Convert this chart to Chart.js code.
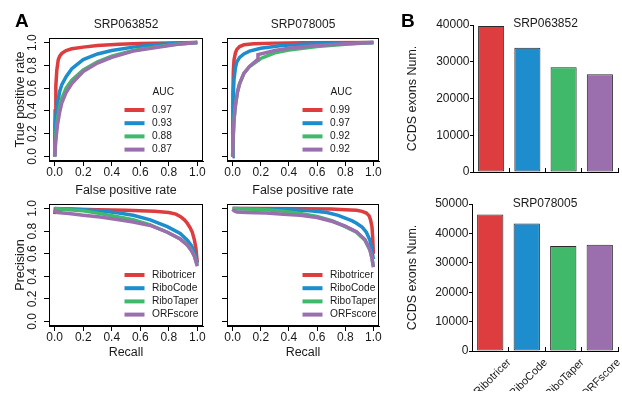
<!DOCTYPE html>
<html><head><meta charset="utf-8">
<script src="https://cdn.jsdelivr.net/npm/chart.js@4.4.1/dist/chart.umd.min.js"></script>
<style>
html,body{margin:0;padding:0;background:#fff}
#wrap{position:relative;width:622px;height:397px;overflow:hidden;background:#fff}
canvas{position:absolute;left:0;top:0}
.tag{position:absolute;font:bold 19px "Liberation Sans",Arial,sans-serif;line-height:19px;color:#000}
</style></head><body>
<div id="wrap">
<canvas id="roc1" width="622" height="397"></canvas>
<canvas id="roc2" width="622" height="397"></canvas>
<canvas id="pr1" width="622" height="397"></canvas>
<canvas id="pr2" width="622" height="397"></canvas>
<canvas id="bar1" width="622" height="397"></canvas>
<canvas id="bar2" width="622" height="397"></canvas>
<div class="tag" style="left:15px;top:11px">A</div>
<div class="tag" style="left:401px;top:11px">B</div>
</div>
<script>
// ---------------- data ----------------
const methods = ['Ribotricer', 'RiboCode', 'RiboTaper', 'ORFscore'];
const studies = ['SRP063852', 'SRP078005'];
const auc063852 = ['0.97', '0.93', '0.88', '0.87'];
const auc078005 = ['0.99', '0.97', '0.92', '0.92'];
const unitTicks = [0, 0.2, 0.4, 0.6, 0.8, 1.0];
const unitTickLabels = ['0.0', '0.2', '0.4', '0.6', '0.8', '1.0'];
const barTicks063852 = [0, 10000, 20000, 30000, 40000];
const barTicks078005 = [0, 10000, 20000, 30000, 40000, 50000];
const exons063852 = [39700, 33800, 28500, 26600];
const exons078005 = [46400, 43400, 35700, 36100];

// ROC SRP063852 (false positive rate, true positive rate)
const roc1RiboticerFpr = [0, 0.003, 0.008, 0.015, 0.025, 0.035, 0.05, 0.08, 0.12, 0.2, 0.3, 0.45, 0.6, 0.8, 1];
const roc1RiboticerTpr = [0, 0.4, 0.62, 0.76, 0.85, 0.88, 0.905, 0.93, 0.945, 0.96, 0.975, 0.985, 0.992, 0.997, 1];
const roc1RiboCodeFpr = [0, 0.003, 0.01, 0.02, 0.035, 0.05, 0.08, 0.12, 0.2, 0.3, 0.4, 0.55, 0.7, 0.85, 1];
const roc1RiboCodeTpr = [0, 0.3, 0.38, 0.47, 0.57, 0.63, 0.7, 0.77, 0.85, 0.9, 0.93, 0.96, 0.98, 0.993, 1];
const roc1RiboTaperFpr = [0, 0.003, 0.01, 0.02, 0.035, 0.05, 0.08, 0.12, 0.2, 0.3, 0.4, 0.55, 0.7, 0.85, 1];
const roc1RiboTaperTpr = [0, 0.1, 0.22, 0.33, 0.44, 0.51, 0.6, 0.67, 0.76, 0.83, 0.88, 0.93, 0.96, 0.985, 1];
const roc1ORFscoreFpr = [0, 0.003, 0.01, 0.02, 0.035, 0.05, 0.08, 0.12, 0.2, 0.3, 0.4, 0.55, 0.7, 0.85, 1];
const roc1ORFscoreTpr = [0, 0.06, 0.17, 0.28, 0.39, 0.47, 0.56, 0.64, 0.745, 0.82, 0.87, 0.925, 0.955, 0.983, 1];

// ROC SRP078005
const roc2RiboticerFpr = [0, 0.002, 0.005, 0.01, 0.02, 0.03, 0.05, 0.08, 0.15, 0.3, 0.5, 1];
const roc2RiboticerTpr = [0, 0.55, 0.75, 0.85, 0.91, 0.94, 0.965, 0.98, 0.99, 0.995, 0.998, 1];
const roc2RiboCodeFpr = [0, 0.002, 0.005, 0.01, 0.02, 0.03, 0.05, 0.08, 0.12, 0.2, 0.35, 0.5, 0.7, 1];
const roc2RiboCodeTpr = [0, 0.35, 0.55, 0.68, 0.78, 0.83, 0.87, 0.9, 0.925, 0.95, 0.975, 0.985, 0.995, 1];
const roc2RiboTaperFpr = [0, 0.003, 0.01, 0.02, 0.035, 0.05, 0.08, 0.12, 0.2, 0.3, 0.4, 0.6, 0.8, 1];
const roc2RiboTaperTpr = [0, 0.15, 0.33, 0.45, 0.57, 0.64, 0.73, 0.79, 0.86, 0.91, 0.935, 0.965, 0.985, 1];
const roc2ORFscoreFpr = [0, 0.003, 0.01, 0.02, 0.035, 0.05, 0.08, 0.12, 0.175, 0.18, 0.3, 0.4, 0.6, 0.8, 1];
const roc2ORFscoreTpr = [0, 0.14, 0.32, 0.45, 0.57, 0.64, 0.73, 0.79, 0.85, 0.895, 0.93, 0.95, 0.975, 0.99, 1];

// PR SRP063852 (recall, precision)
const pr1RiboticerRec = [0, 0.004, 0.02, 0.1, 0.3, 0.5, 0.6, 0.7, 0.8, 0.85, 0.88, 0.91, 0.93, 0.95, 0.965, 0.98, 0.99, 1];
const pr1RiboticerPre = [0.95, 0.995, 0.99, 0.995, 0.99, 0.985, 0.98, 0.975, 0.965, 0.95, 0.93, 0.9, 0.87, 0.83, 0.79, 0.72, 0.65, 0.52];
const pr1RiboCodeRec = [0, 0.1, 0.2, 0.32, 0.45, 0.55, 0.67, 0.79, 0.88, 0.93, 0.96, 0.98, 1];
const pr1RiboCodePre = [1, 0.995, 0.99, 0.98, 0.96, 0.94, 0.9, 0.84, 0.78, 0.72, 0.67, 0.61, 0.52];
const pr1RiboTaperRec = [0, 0.1, 0.2, 0.32, 0.45, 0.55, 0.67, 0.79, 0.88, 0.93, 0.96, 0.98, 1];
const pr1RiboTaperPre = [1, 0.99, 0.98, 0.955, 0.925, 0.9, 0.855, 0.79, 0.73, 0.68, 0.63, 0.58, 0.5];
const pr1ORFscoreRec = [0, 0.005, 0.02, 0.1, 0.2, 0.32, 0.45, 0.55, 0.67, 0.79, 0.88, 0.93, 0.96, 0.98, 1];
const pr1ORFscorePre = [0.99, 0.975, 0.965, 0.955, 0.94, 0.925, 0.9, 0.88, 0.85, 0.79, 0.73, 0.675, 0.625, 0.575, 0.49];

// PR SRP078005
const pr2RiboticerRec = [0, 0.2, 0.5, 0.7, 0.8, 0.88, 0.92, 0.95, 0.97, 0.98, 0.99, 0.995, 1];
const pr2RiboticerPre = [1, 1, 0.998, 0.995, 0.99, 0.985, 0.975, 0.96, 0.935, 0.9, 0.84, 0.75, 0.6];
const pr2RiboCodeRec = [0, 0.2, 0.4, 0.55, 0.67, 0.75, 0.8, 0.85, 0.88, 0.92, 0.95, 0.975, 0.99, 1];
const pr2RiboCodePre = [1, 0.997, 0.99, 0.98, 0.965, 0.94, 0.915, 0.89, 0.87, 0.835, 0.79, 0.72, 0.63, 0.55];
const pr2RiboTaperRec = [0, 0.1, 0.24, 0.36, 0.48, 0.6, 0.71, 0.8, 0.88, 0.94, 0.976, 0.99, 1];
const pr2RiboTaperPre = [1, 0.995, 0.99, 0.975, 0.955, 0.93, 0.89, 0.84, 0.79, 0.72, 0.63, 0.56, 0.49];
const pr2ORFscoreRec = [0, 0.01, 0.03, 0.1, 0.24, 0.36, 0.48, 0.6, 0.71, 0.8, 0.88, 0.94, 0.976, 0.99, 1];
const pr2ORFscorePre = [0.995, 0.98, 0.97, 0.965, 0.96, 0.95, 0.94, 0.92, 0.885, 0.845, 0.795, 0.725, 0.635, 0.56, 0.48];

// ---------------- style ----------------
const FONT = '"Liberation Sans", Arial, Helvetica, sans-serif';
const INK = '#1a1a1a';
const colors = ['#DD3D3F', '#1D8DCE', '#40B96A', '#9B6FAE'];
const W = 622, H = 397;

const framePlugin = {
  id: 'frameBox',
  afterDatasetsDraw(chart, args, o) {
    if (!o.show) return;
    const a = chart.chartArea, c = chart.ctx;
    c.save(); c.strokeStyle = '#000'; c.lineWidth = 1;
    c.strokeRect(a.left + 0.5, a.top + 0.5, a.right - a.left - 1, a.bottom - a.top - 1);
    c.restore();
  }
};
const legendPlugin = {
  id: 'innerLegend',
  afterDatasetsDraw(chart, args, o) {
    if (!o.labels) return;
    const a = chart.chartArea, c = chart.ctx;
    c.save();
    c.font = '10.2px ' + FONT; c.fillStyle = INK; c.textAlign = 'left'; c.textBaseline = 'middle';
    if (o.header) c.fillText(o.header, a.left + 103.5, a.bottom - 68.7);
    o.labels.forEach((t, i) => {
      const y = a.bottom - 51 + i * 13.2;
      c.strokeStyle = colors[i]; c.lineWidth = 4; c.lineCap = 'butt';
      c.beginPath(); c.moveTo(a.left + 75.5, y); c.lineTo(a.left + 95.5, y); c.stroke();
      c.fillText(t, a.left + 103, y);
    });
    c.restore();
  }
};
const panelTitlePlugin = {
  id: 'panelTitle',
  afterDraw(chart, args, o) {
    if (!o.text) return;
    const a = chart.chartArea, c = chart.ctx;
    c.save(); c.font = '12px ' + FONT; c.fillStyle = INK; c.textAlign = 'center'; c.textBaseline = 'middle';
    c.fillText(o.text, (a.left + a.right) / 2, o.y);
    c.restore();
  }
};
Chart.register(framePlugin, legendPlugin, panelTitlePlugin);

function pts(xs, ys) { return xs.map((x, i) => ({ x: x, y: ys[i] })); }

function unitAxis(isX, title, showLabels, size, pad) {
  return {
    type: 'linear', min: -0.04, max: 1.04, position: isX ? 'bottom' : 'left',
    afterBuildTicks: s => { s.ticks = unitTicks.map(v => ({ value: v })); },
    afterFit: s => { if (isX) s.height = size; else s.width = size; },
    grid: { drawOnChartArea: false, drawTicks: true, tickLength: 5, color: '#000', tickWidth: 1 },
    border: { display: true, color: '#000', width: 1 },
    ticks: isX
      ? { padding: pad, color: INK, font: { family: FONT, size: 12 }, maxRotation: 0, minRotation: 0, autoSkip: false,
          callback: (v, i) => unitTickLabels[i] }
      : { padding: 3, color: INK, font: { family: FONT, size: 12 }, minRotation: 90, maxRotation: 90, crossAlign: 'center', autoSkip: false,
          callback: (v, i) => showLabels ? unitTickLabels[i] : '' },
    title: title ? { display: true, text: title, color: INK, font: { family: FONT, size: 12.5 }, padding: 0 } : { display: false }
  };
}

function curveChart(id, area, series, o) {
  return new Chart(document.getElementById(id), {
    type: 'scatter',
    data: {
      datasets: series.map((s, i) => ({
        label: methods[i], data: pts(s[0], s[1]), showLine: true,
        borderColor: colors[i], backgroundColor: colors[i], borderWidth: 3.5,
        pointRadius: 0, pointHoverRadius: 0, tension: 0, order: 3 - i
      }))
    },
    options: {
      responsive: false, animation: false, devicePixelRatio: 1, events: [],
      layout: { padding: { left: area.l - o.yW, top: area.t, right: W - area.r, bottom: H - area.b - o.xH } },
      plugins: {
        legend: { display: false }, tooltip: { enabled: false },
        frameBox: { show: true },
        innerLegend: { header: o.header, labels: o.legend },
        panelTitle: { text: o.title, y: 24.5 }
      },
      scales: {
        x: unitAxis(true, o.xTitle, true, o.xH, -0.5),
        y: unitAxis(false, o.yTitle, o.yLabels, o.yW)
      }
    }
  });
}

function barChart(id, area, values, ticks, o) {
  return new Chart(document.getElementById(id), {
    type: 'bar',
    data: {
      labels: methods,
      datasets: [{ data: values, backgroundColor: colors, borderColor: '#2a2a2a', borderWidth: 1,
        borderSkipped: false, barPercentage: 0.72, categoryPercentage: 1 }]
    },
    options: {
      responsive: false, animation: false, devicePixelRatio: 1, events: [],
      layout: { padding: { left: area.l - o.yW, top: area.t, right: W - area.r, bottom: H - area.b - o.xH } },
      plugins: {
        legend: { display: false }, tooltip: { enabled: false },
        frameBox: { show: false }, innerLegend: {},
        panelTitle: { text: o.title, y: o.titleY }
      },
      scales: {
        x: {
          afterFit: s => { s.height = o.xH; },
          grid: { offset: true, drawOnChartArea: false, tickLength: -4, color: '#000' },
          border: { display: true, color: '#000' },
          ticks: { display: o.xLabels, autoSkip: false, minRotation: 45, maxRotation: 45, labelOffset: 19, padding: 9,
            color: INK, font: { family: FONT, size: 11 } }
        },
        y: {
          min: 0, max: ticks[ticks.length - 1],
          afterBuildTicks: s => { s.ticks = ticks.map(v => ({ value: v })); },
          afterFit: s => { s.width = o.yW; },
          grid: { drawOnChartArea: false, tickLength: 3, color: '#000' },
          border: { display: true, color: '#000' },
          ticks: { padding: 0.5, color: INK, font: { family: FONT, size: 12 }, callback: (v, i) => String(ticks[i]) },
          title: { display: true, text: 'CCDS exons Num.', color: INK, font: { family: FONT, size: 12.5 }, padding: 0 }
        }
      }
    }
  });
}

curveChart('roc1', { l: 49, t: 38, r: 203, b: 161 },
  [[roc1RiboticerFpr, roc1RiboticerTpr], [roc1RiboCodeFpr, roc1RiboCodeTpr], [roc1RiboTaperFpr, roc1RiboTaperTpr], [roc1ORFscoreFpr, roc1ORFscoreTpr]],
  { yW: 35.5, xH: 37.5, title: studies[0], xTitle: 'False positive rate', yTitle: 'True positive rate', yLabels: true, header: 'AUC', legend: auc063852 });
curveChart('roc2', { l: 227, t: 38, r: 379, b: 161 },
  [[roc2RiboticerFpr, roc2RiboticerTpr], [roc2RiboCodeFpr, roc2RiboCodeTpr], [roc2RiboTaperFpr, roc2RiboTaperTpr], [roc2ORFscoreFpr, roc2ORFscoreTpr]],
  { yW: 8, xH: 37.5, title: studies[1], xTitle: 'False positive rate', yTitle: null, yLabels: false, header: 'AUC', legend: auc078005 });
curveChart('pr1', { l: 49, t: 204, r: 203, b: 326 },
  [[pr1RiboticerRec, pr1RiboticerPre], [pr1RiboCodeRec, pr1RiboCodePre], [pr1RiboTaperRec, pr1RiboTaperPre], [pr1ORFscoreRec, pr1ORFscorePre]],
  { yW: 35.5, xH: 34.2, title: null, xTitle: 'Recall', yTitle: 'Precision', yLabels: true, header: null, legend: methods });
curveChart('pr2', { l: 227, t: 204, r: 379, b: 326 },
  [[pr2RiboticerRec, pr2RiboticerPre], [pr2RiboCodeRec, pr2RiboCodePre], [pr2RiboTaperRec, pr2RiboTaperPre], [pr2ORFscoreRec, pr2ORFscorePre]],
  { yW: 8, xH: 34.2, title: null, xTitle: 'Recall', yTitle: null, yLabels: false, header: null, legend: methods });

barChart('bar1', { l: 473, t: 25, r: 618, b: 172 }, exons063852, barTicks063852,
  { yW: 67.5, xH: 10, title: studies[0], titleY: 24, xLabels: false });
barChart('bar2', { l: 472, t: 204, r: 618, b: 351 }, exons078005, barTicks078005,
  { yW: 66.5, xH: 40, title: studies[1], titleY: 203.8, xLabels: true });
</script>
</body></html>
